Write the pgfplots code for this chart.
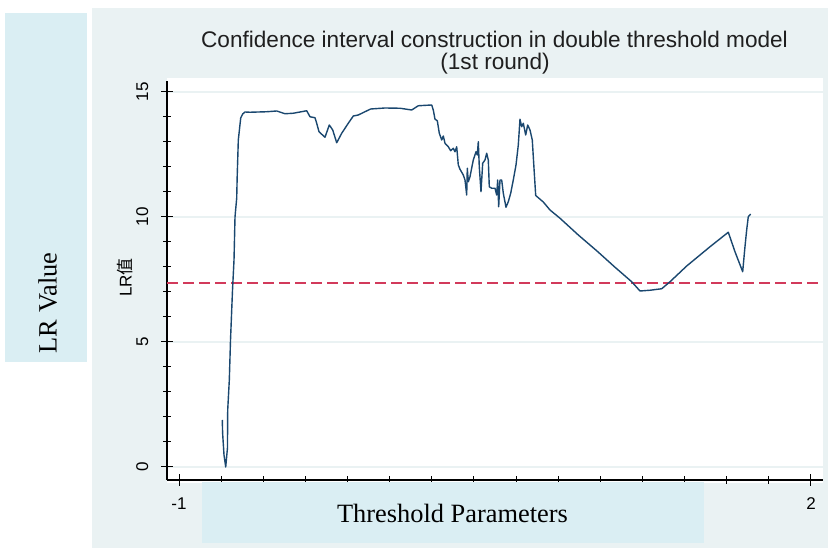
\documentclass[border=0pt]{standalone}
\usepackage{fontspec}
\setmainfont{Liberation Sans}
\newfontfamily\serifft{Liberation Serif}
\newfontfamily\cjk{Noto Sans CJK SC}
\usepackage{pgfplots}
\pgfplotsset{compat=1.18}
\definecolor{bggray}{HTML}{EAF2F3}
\definecolor{boxblue}{HTML}{DAEEF3}
\definecolor{navy}{HTML}{1A476F}
\definecolor{cran}{HTML}{D23A5B}
\definecolor{gridc}{HTML}{EAF2F3}
\begin{document}
\begin{tikzpicture}
\fill[white] (0pt,0pt) rectangle (828pt,548pt);
\fill[bggray] (92pt,0pt) rectangle (828pt,540pt);
\fill[white] (167pt,65pt) rectangle (823pt,470pt);
\fill[boxblue] (5pt,186pt) rectangle (87pt,535pt);
\begin{axis}[
  at={(167pt,68pt)}, anchor=south west, scale only axis,
  width=656pt, height=399pt,
  xmin=-1.057, xmax=2.057, ymin=-0.52, ymax=15.44,
  axis x line*=bottom, axis y line*=left,
  axis line style={black, line width=1.2pt},
  xtick={-1,2}, xticklabels={{-1},{2}},
  ytick={0,5,10,15}, yticklabels={{0},{5},{10},{15}},
  minor x tick num=14, minor y tick num=4,
  tick align=center, major tick length=12pt, minor tick length=8pt,
  tick style={black, line width=1pt},
  ymajorgrids, major grid style={gridc, line width=1.3pt},
  xticklabel style={font=\fontsize{17}{17}\selectfont, anchor=base, yshift=-23.5pt, inner sep=0pt},
  yticklabel style={font=\fontsize{17}{17}\selectfont, xshift=-13pt, rotate=90, anchor=base, inner sep=0pt},
  clip=false,
]
\addplot[cran, line width=1.5pt, dash pattern=on 11pt off 5pt] coordinates {(-1.057,7.35) (2.057,7.35)};
\addplot[navy, line width=1.4pt, line join=round] coordinates {
(-0.7945,1.88) (-0.7930,1.36) (-0.7864,0.48) (-0.7783,0.0) (-0.7700,0.76) (-0.7688,2.28) (-0.7612,3.48) (-0.7555,5.08) (-0.7460,7.08) (-0.7389,8.28) (-0.7342,10.0) (-0.7261,10.76) (-0.7240,11.56) (-0.7185,13.08) (-0.7071,13.96) (-0.6976,14.12) (-0.6867,14.2) (-0.6630,14.19) (-0.5837,14.21) (-0.5362,14.24) (-0.4968,14.13) (-0.4574,14.15) (-0.3938,14.25) (-0.3782,14.01) (-0.3544,13.97) (-0.3464,13.75) (-0.3355,13.41) (-0.3070,13.19) (-0.2866,13.68) (-0.2704,13.48) (-0.2514,12.97) (-0.2277,13.35) (-0.2120,13.55) (-0.1964,13.75) (-0.1726,14.04) (-0.1489,14.08) (-0.1200,14.2) (-0.0900,14.32) (-0.0222,14.36) (0.0490,14.35) (0.1046,14.28) (0.1359,14.45) (0.1995,14.48) (0.2071,14.28) (0.2152,13.91) (0.2261,13.85) (0.2356,13.35) (0.2470,13.08) (0.2546,13.24) (0.2626,12.95) (0.2783,12.81) (0.2897,12.65) (0.3020,12.75) (0.3101,12.61) (0.3182,12.81) (0.3258,12.08) (0.3338,11.91) (0.3495,11.68) (0.3576,11.48) (0.3656,10.88) (0.3685,11.95) (0.3732,11.41) (0.3813,11.61) (0.3969,12.28) (0.4098,12.61) (0.4159,12.48) (0.4207,13.01) (0.4254,12.01) (0.4335,11.01) (0.4416,12.15) (0.4525,12.28) (0.4605,12.55) (0.4682,12.28) (0.4729,11.21) (0.4843,11.15) (0.5000,11.15) (0.5080,10.88) (0.5128,11.48) (0.5175,10.41) (0.5237,11.48) (0.5318,11.48) (0.5394,10.95) (0.5522,10.39) (0.5631,10.61) (0.5745,10.95) (0.5868,11.48) (0.5997,12.08) (0.6106,12.88) (0.6186,13.91) (0.6267,13.61) (0.6343,13.75) (0.6457,13.28) (0.6552,13.68) (0.6661,13.48) (0.6770,13.08) (0.6851,11.95) (0.6932,10.86) (0.7292,10.6) (0.7610,10.28) (0.8085,9.95) (0.8954,9.28) (0.9827,8.65) (1.0696,7.99) (1.1489,7.41) (1.1883,7.04) (1.2358,7.07) (1.2913,7.13) (1.3307,7.41) (1.4100,8.04) (1.5206,8.81) (1.6074,9.39) (1.6392,8.61) (1.6758,7.81) (1.6866,8.81) (1.6947,9.48) (1.7023,10.01) (1.7137,10.12)
};
\end{axis}
\fill[boxblue] (202pt,5pt) rectangle (704pt,66pt);
\node[anchor=base, inner sep=0pt, text=black!88, font=\fontsize{22.6}{22.6}\selectfont] at (494.5pt,500pt) {Confidence interval construction in double threshold model};
\node[anchor=base, inner sep=0pt, text=black!88, font=\fontsize{22.6}{22.6}\selectfont] at (495pt,478pt) {(1st round)};
\node[anchor=base, inner sep=0pt, font=\serifft\fontsize{26.4}{26.4}\selectfont] at (452.5pt,25pt) {Threshold Parameters};
\node[anchor=base, inner sep=0pt, rotate=90, font=\serifft\fontsize{26.4}{26.4}\selectfont] at (56.5pt,245pt) {LR Value};
\node[anchor=base, inner sep=0pt, rotate=90, font=\fontsize{17}{17}\selectfont] at (131.5pt,270.5pt) {LR{\cjk 值}};
\end{tikzpicture}
\end{document}
